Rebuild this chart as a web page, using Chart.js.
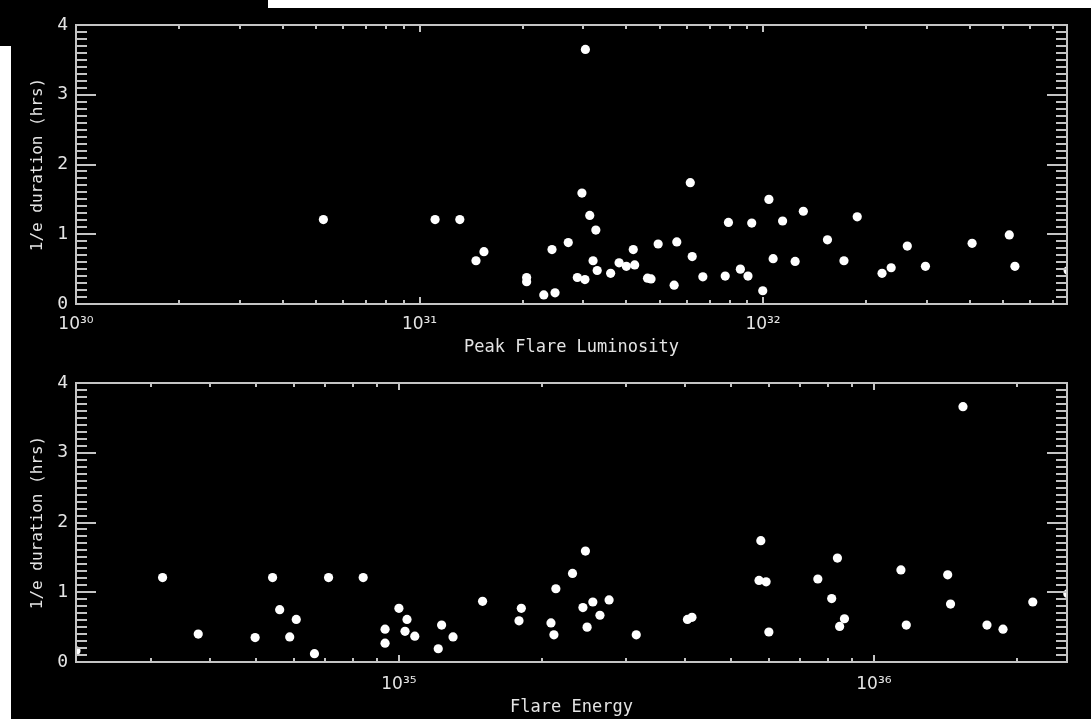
<!DOCTYPE html>
<html>
<head>
<meta charset="utf-8">
<title>Flare duration vs luminosity and energy</title>
<script src="https://cdn.jsdelivr.net/npm/chart.js@4.4.1/dist/chart.umd.min.js"></script>
<style>
  body { margin: 0; background: #000; width: 1091px; height: 719px; overflow: hidden; position: relative; }
  .scrap { position: absolute; background: #fff; }
  canvas { position: absolute; left: 0; }
</style>
</head>
<body>
<div class="scrap" style="left:0;top:46px;width:11px;height:673px"></div>
<div class="scrap" style="left:268px;top:0;width:823px;height:8px"></div>
<canvas id="lumChart" width="1091" height="360" style="top:0"></canvas>
<canvas id="energyChart" width="1091" height="359" style="top:360px"></canvas>
<script>
//--- data
const peakLum = [5.25e30, 1.11e31, 1.31e31, 1.46e31, 1.54e31, 2.05e31, 2.05e31, 2.30e31, 2.48e31, 2.43e31,
  2.71e31, 2.97e31, 3.13e31, 3.26e31, 3.20e31, 2.88e31, 3.03e31, 3.29e31, 3.60e31, 3.81e31,
  4.00e31, 4.23e31, 4.19e31, 4.61e31, 4.72e31, 4.95e31, 5.51e31, 5.61e31, 6.14e31, 6.22e31,
  6.68e31, 7.76e31, 7.93e31, 8.59e31, 9.04e31, 9.27e31, 9.98e31, 1.04e32, 1.07e32, 1.14e32,
  1.24e32, 1.31e32, 1.54e32, 1.72e32, 1.88e32, 2.22e32, 2.36e32, 2.63e32, 2.97e32, 4.06e32,
  5.21e32, 5.41e32, 7.73e32, 3.04e31];
const lumDuration = [1.21, 1.21, 1.21, 0.62, 0.75, 0.38, 0.32, 0.13, 0.16, 0.78,
  0.88, 1.59, 1.27, 1.06, 0.62, 0.38, 0.35, 0.48, 0.44, 0.59,
  0.54, 0.56, 0.78, 0.37, 0.36, 0.86, 0.27, 0.89, 1.74, 0.68,
  0.39, 0.40, 1.17, 0.50, 0.40, 1.16, 0.19, 1.50, 0.65, 1.19,
  0.61, 1.33, 0.92, 0.62, 1.25, 0.44, 0.52, 0.83, 0.54, 0.87,
  0.99, 0.54, 0.48, 3.65];

const flareEnergy = [3.18e34, 3.78e34, 4.98e34, 5.42e34, 5.61e34, 5.89e34, 6.08e34, 6.64e34, 7.11e34, 8.41e34,
  9.35e34, 9.35e34, 1.00e35, 1.04e35, 1.03e35, 1.08e35, 1.21e35, 1.23e35, 1.30e35, 1.50e35,
  1.81e35, 1.79e35, 2.14e35, 2.09e35, 2.12e35, 2.09e34, 2.32e35, 2.47e35, 2.44e35, 2.56e35,
  2.65e35, 2.77e35, 2.49e35, 3.16e35, 4.05e35, 4.14e35, 5.78e35, 5.73e35, 5.93e35, 6.01e35,
  7.62e35, 8.38e35, 8.15e35, 8.67e35, 8.47e35, 1.14e36, 1.17e36, 1.43e36, 1.45e36, 1.54e36,
  1.73e36, 1.87e36, 2.16e36, 2.56e36];
const energyDuration = [1.21, 0.40, 0.35, 1.21, 0.75, 0.36, 0.61, 0.12, 1.21, 1.21,
  0.47, 0.27, 0.77, 0.61, 0.44, 0.37, 0.19, 0.53, 0.36, 0.87,
  0.77, 0.59, 1.05, 0.56, 0.39, 0.16, 1.27, 1.59, 0.78, 0.86,
  0.67, 0.89, 0.50, 0.39, 0.61, 0.64, 1.74, 1.17, 1.15, 0.43,
  1.19, 1.49, 0.91, 0.62, 0.51, 1.32, 0.53, 1.25, 0.83, 3.66,
  0.53, 0.47, 0.86, 0.98];

//--- tick positions
const lumTicks = [1e30, 2e30, 3e30, 4e30, 5e30, 6e30, 7e30, 8e30, 9e30,
  1e31, 2e31, 3e31, 4e31, 5e31, 6e31, 7e31, 8e31, 9e31,
  1e32, 2e32, 3e32, 4e32, 5e32, 6e32, 7e32];
const energyTicks = [3e34, 4e34, 5e34, 6e34, 7e34, 8e34, 9e34,
  1e35, 2e35, 3e35, 4e35, 5e35, 6e35, 7e35, 8e35, 9e35,
  1e36, 2e36];
const durationTicks = [0, 1, 2, 3, 4];

const AXIS_COLOR = '#c4c4c4';
const TEXT_COLOR = '#e4e4e4';
const FONT = 'DejaVu Sans Mono';
const SUP = {'0': '⁰', '1': '¹', '2': '²', '3': '³', '4': '⁴', '5': '⁵', '6': '⁶', '7': '⁷', '8': '⁸', '9': '⁹'};

function isDecade(v) {
    const e = Math.log10(v);
    return Math.abs(e - Math.round(e)) < 1e-6;
}

function decadeLabel(v) {
    if (!isDecade(v)) return '';
    const e = String(Math.round(Math.log10(v)));
    return '10' + e.split('').map(c => SUP[c]).join('');
}

//--- box with inward ticks on all four sides
const frameTicks = {
    id: 'frameTicks',
    afterDatasetsDraw(chart) {
        const ctx = chart.ctx;
        const a = chart.chartArea;
        const xs = chart.scales.x;
        const ys = chart.scales.y;
        ctx.save();
        ctx.strokeStyle = AXIS_COLOR;
        ctx.lineWidth = 2;
        ctx.strokeRect(a.left, a.top, a.right - a.left, a.bottom - a.top);
        ctx.beginPath();
        xs.ticks.forEach(function (t) {
            const px = Math.round(xs.getPixelForValue(t.value));
            const len = isDecade(t.value) ? 7 : 4;
            ctx.moveTo(px, a.bottom); ctx.lineTo(px, a.bottom - len);
            ctx.moveTo(px, a.top); ctx.lineTo(px, a.top + len);
        });
        for (let i = 0; i <= 40; i++) {
            const py = Math.round(ys.getPixelForValue(i / 10));
            const len = i % 10 === 0 ? 20 : 11;
            ctx.moveTo(a.left, py); ctx.lineTo(a.left + len, py);
            ctx.moveTo(a.right, py); ctx.lineTo(a.right - len, py);
        }
        ctx.stroke();
        ctx.restore();
    }
};

function makePanel(id, xVals, yVals, xTicks, xMin, xMax, xTitle, layout) {
    const points = xVals.map((v, i) => ({x: v, y: yVals[i]}));
    return new Chart(document.getElementById(id), {
        type: 'scatter',
        data: {
            datasets: [{
                data: points,
                backgroundColor: '#ffffff',
                borderWidth: 0,
                pointRadius: 4.6,
                pointHoverRadius: 4.6,
                clip: 0
            }]
        },
        options: {
            responsive: false,
            animation: false,
            devicePixelRatio: 1,
            layout: {padding: {top: layout.top, right: 24, left: 0, bottom: 0}},
            plugins: {legend: {display: false}, tooltip: {enabled: false}},
            scales: {
                x: {
                    type: 'logarithmic',
                    min: xMin,
                    max: xMax,
                    afterBuildTicks: function (scale) {
                        scale.ticks = xTicks.map(v => ({value: v}));
                    },
                    afterFit: function (scale) { scale.height = layout.xHeight; },
                    grid: {display: false, drawTicks: false},
                    border: {display: false},
                    ticks: {
                        autoSkip: false,
                        maxRotation: 0,
                        padding: layout.labelPad,
                        color: TEXT_COLOR,
                        font: {family: 'DejaVu Sans', size: 17},
                        callback: function (v) { return decadeLabel(v); }
                    },
                    title: {
                        display: true,
                        text: xTitle,
                        color: TEXT_COLOR,
                        font: {family: FONT, size: 17},
                        padding: {top: 0, bottom: layout.titlePad}
                    }
                },
                y: {
                    min: 0,
                    max: 4,
                    afterBuildTicks: function (scale) {
                        scale.ticks = durationTicks.map(v => ({value: v}));
                    },
                    afterFit: function (scale) { scale.width = 76; },
                    grid: {display: false, drawTicks: false},
                    border: {display: false},
                    ticks: {
                        padding: 8,
                        color: TEXT_COLOR,
                        font: {family: FONT, size: 18}
                    },
                    title: {
                        display: true,
                        text: '1/e duration (hrs)',
                        color: TEXT_COLOR,
                        font: {family: FONT, size: 16},
                        padding: {top: 28, bottom: 0}
                    }
                }
            }
        },
        plugins: [frameTicks]
    });
}

makePanel('lumChart', peakLum, lumDuration, lumTicks, 1e30, 7.67e32, 'Peak Flare Luminosity',
    {top: 25, xHeight: 56, labelPad: 10, titlePad: 2});
makePanel('energyChart', flareEnergy, energyDuration, energyTicks, 2.09e34, 2.55e36, 'Flare Energy',
    {top: 23, xHeight: 57, labelPad: 12, titlePad: 1});
</script>
</body>
</html>
